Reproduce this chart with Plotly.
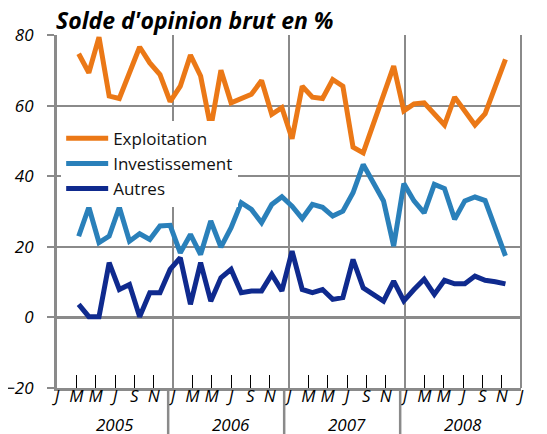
import plotly.graph_objects as go

# ---- data ----
exploitation = [74.7, 69.3, 79.4, 62.7, 62.0, 69.5, 76.6, 72.1, 68.8, 61.1,
                65.5, 74.3, 68.4, 53.7, 70.0, 60.8, 62.0, 63.2, 67.1, 57.5,
                59.4, 50.6, 65.5, 62.4, 62.0, 67.4, 65.5, 48.2, 46.6, 54.8,
                63.0, 71.2, 58.5, 60.5, 60.8, 57.7, 54.5, 62.4, 58.4, 54.5,
                57.7, 65.4, 73.1]
investissement = [23.0, 31.2, 21.2, 23.0, 31.2, 21.6, 23.7, 22.1, 25.9, 26.1,
                  18.3, 23.5, 17.8, 27.3, 19.9, 25.4, 32.5, 30.6, 26.8, 32.0,
                  34.2, 31.5, 28.0, 32.0, 31.2, 28.7, 30.1, 35.3, 43.3, 38.2,
                  33.0, 20.2, 37.9, 33.0, 29.6, 37.7, 36.5, 27.8, 33.0, 34.1,
                  33.1, 25.3, 17.4]
autres = [3.7, 0.2, 0.2, 15.5, 7.9, 9.3, 0.2, 7.0, 7.0, 13.6,
          16.9, 3.7, 15.5, 4.6, 11.2, 13.6, 7.0, 7.5, 7.5, 12.2,
          7.5, 18.8, 7.9, 7.0, 7.9, 5.1, 5.6, 16.4, 8.4, 6.5,
          4.6, 10.3, 4.7, 7.9, 10.8, 6.5, 10.5, 9.5, 9.5, 11.7,
          10.5, 10.1, 9.5]
periods = list(range(len(exploitation)))

month_letters = ["J", "M", "M", "J", "S", "N"]
years = ["2005", "2006", "2007", "2008"]
month_tickvals = list(range(0, 49, 2))
month_ticktext = (month_letters * 4) + ["J"]
year_bounds = [0, 12, 24, 36, 48]
inner_ticks = [v for v in month_tickvals if v % 12 != 0]

series = [("Exploitation", exploitation, "#EB7816"),
          ("Investissement", investissement, "#2A80BA"),
          ("Autres", autres, "#0F2A8E")]

GRID = "#8a8a8a"
FONT = "Open Sans"
W, H = 539, 426  # page body has an 8px margin

fig = go.Figure()
for name, vals, col in series:
    fig.add_trace(go.Scatter(x=periods, y=vals, name=name, mode="lines",
                             line=dict(color=col, width=5),
                             xaxis="x", yaxis="y"))

fig.update_layout(
    width=W, height=H,
    margin=dict(l=49, r=26, t=27, b=46, autoexpand=False),
    paper_bgcolor="white", plot_bgcolor="white",
    font=dict(family=FONT, size=16, color="black"),
    showlegend=True,
    legend=dict(x=0.009, y=0.757, xanchor="left", yanchor="top",
                bgcolor="white", borderwidth=0,
                font=dict(family=FONT, size=17, color="#111"),
                tracegroupgap=0, itemwidth=42),
    title=dict(text="<b><i>Solde d'opinion brut en %</i></b>",
               x=48 / W, xanchor="left", xref="container",
               y=1 - 13 / H, yanchor="middle", yref="container",
               font=dict(family=FONT, size=23, color="black")),
    xaxis=dict(range=[-2.133, 43.53], visible=False, fixedrange=True,
               automargin=False),
    xaxis2=dict(overlaying="x", anchor="free", position=0.01, side="bottom",
                range=[0, 48],
                tickvals=month_tickvals, ticktext=month_ticktext,
                ticks="", showgrid=False, zeroline=False, showline=False,
                tickfont=dict(family=FONT, size=17, style="italic", color="black"),
                automargin=False),
    xaxis3=dict(overlaying="x", anchor="y", range=[0, 48],
                tickvals=year_bounds, showticklabels=False, ticks="",
                showgrid=True, gridcolor=GRID, gridwidth=1.5, zeroline=False,
                showline=True, linecolor=GRID, linewidth=3,
                automargin=False),
    xaxis4=dict(overlaying="x", anchor="y", range=[0, 48],
                tickvals=inner_ticks, showticklabels=False,
                ticks="inside", ticklen=13, tickwidth=1, tickcolor="black",
                showgrid=False, zeroline=False, automargin=False),
    yaxis=dict(range=[-20, 80], tickvals=[-20, 0, 20, 40, 60, 80],
               showgrid=True, gridcolor=GRID, gridwidth=1.5,
               zeroline=True, zerolinecolor=GRID, zerolinewidth=3,
               showline=True, linecolor=GRID, linewidth=3,
               ticks="outside", ticklen=7, tickwidth=2, tickcolor=GRID,
               tickfont=dict(family=FONT, size=17, style="italic", color="black"),
               ticklabelstandoff=10, fixedrange=True, automargin=False),
)

# dummy invisible traces to activate the overlay axes
for ax in ["x2", "x3", "x4"]:
    fig.add_trace(go.Scatter(x=[0, 48], y=[None, None], xaxis=ax, yaxis="y",
                             showlegend=False, hoverinfo="skip", mode="lines"))

# year labels and separators under the axis
for i, yr in enumerate(years):
    fig.add_annotation(x=6 + 12 * i, xref="x2", y=-0.104, yref="paper",
                       text=f"<i>{yr}</i>", showarrow=False,
                       font=dict(family=FONT, size=17, color="black"),
                       yanchor="middle")
for b in [11.5, 23.5, 35.5]:
    fig.add_shape(type="line", xref="x2", yref="paper", x0=b, x1=b,
                  y0=-0.005, y1=-0.14, line=dict(color=GRID, width=2.5))

# right frame
fig.add_shape(type="line", xref="paper", yref="paper", x0=1, x1=1, y0=0, y1=1,
              line=dict(color=GRID, width=2))

fig.write_html("out.html")
